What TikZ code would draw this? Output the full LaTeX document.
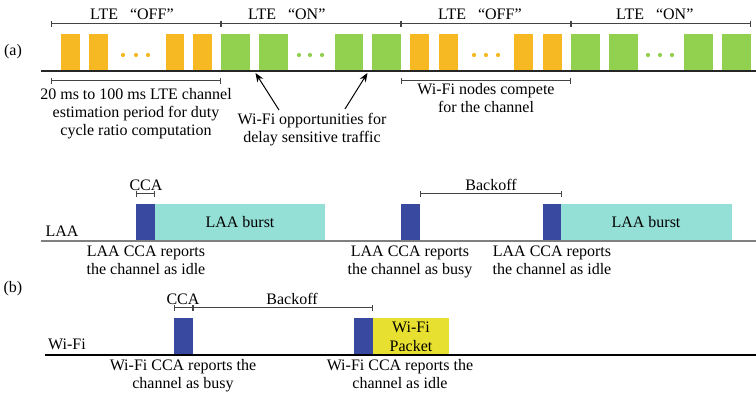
\documentclass[tikz,border=0pt]{standalone}
\usepackage{fontspec}
\setmainfont{Liberation Serif}
\usetikzlibrary{arrows.meta}
\definecolor{lteoff}{HTML}{F6B924}
\definecolor{lteon}{HTML}{92D050}
\definecolor{ccablue}{HTML}{3949A0}
\definecolor{burst}{HTML}{94DFD6}
\definecolor{pkt}{HTML}{E8E030}
\definecolor{brkgray}{HTML}{444444}
\tikzset{
  lbl/.style={inner sep=0pt, anchor=base, font=\fontsize{16}{18}\selectfont},
  lblw/.style={lbl, anchor=base west},
  brk/.style={draw=brkgray, line width=1pt, {Bar[width=6pt,line width=1pt]}-{Bar[width=6pt,line width=1pt]}},
  offbox/.style={fill=lteoff},
  onbox/.style={fill=lteon},
  ccabox/.style={fill=ccablue},
  burstbox/.style={fill=burst},
  pktbox/.style={fill=pkt},
  pointer/.style={draw=black, line width=1pt, -{Stealth[length=9pt,width=7pt]}},
}
\newcommand\qsp{\hspace{12pt}}
\begin{document}
\begin{tikzpicture}[x=1pt,y=-1pt]
\useasboundingbox (0,0) rectangle (756,395);
% ---------------- (a) ----------------
\node[lbl] (pa) at (13,56) {(a)};
\node[lblw] (off1) at (90,20) {LTE\qsp“OFF”};
\node[lblw] (on1) at (248,20) {LTE\qsp“ON”};
\node[lblw] (off2) at (438,20) {LTE\qsp“OFF”};
\node[lblw] (on2) at (616,20) {LTE\qsp“ON”};
\draw[brk] (51,24) -- (221,24);
\draw[brk] (221,24) -- (401,24);
\draw[brk] (401,24) -- (571,24);
\draw[brk] (571,24) -- (751,24);
% boxes
\foreach \a/\b in {61/80,89/108,166/184,193/212,410/429,439/458,514/533,543/562}
  \fill[offbox] (\a,34) rectangle (\b,71);
\foreach \a/\b in {221/250,259/288,335/363,372/401,571/600,609/638,684/713,722/751}
  \fill[onbox] (\a,34) rectangle (\b,71);
\foreach \x in {123,136,148,474,486,498} \fill[lteoff] (\x,55) circle (2.1);
\foreach \x in {299,310,322,648,660,672} \fill[lteon] (\x,55) circle (2.1);
\draw[line width=1.5pt, draw=black!85] (41,71) -- (756,71);
% lower brackets
\draw[brk] (51,81) -- (221,81);
\draw[brk] (401,81) -- (571,81);
\node[lbl] (est1) at (136,100) {20 ms to 100 ms LTE channel};
\node[lbl] (est2) at (136,118) {estimation period for duty};
\node[lbl] (est3) at (136,136) {cycle ratio computation};
\node[lbl] (opp1) at (312,124.5) {Wi-Fi opportunities for};
\node[lbl] (opp2) at (312,142.5) {delay sensitive traffic};
\node[lbl] (cmp1) at (486,95) {Wi-Fi nodes compete};
\node[lbl] (cmp2) at (486,113) {for the channel};
\coordinate (gap1) at (255.5,73);
\coordinate (gap2) at (367.5,73);
\coordinate (t1) at (279,110);
\coordinate (t2) at (345,109);
\draw[pointer] (t1) -- (gap1);
\draw[pointer] (t2) -- (gap2);
% ---------------- (b) ----------------
\node[lbl] (pb) at (13,293) {(b)};
% LAA row
\node[lbl] (laa) at (62,237) {LAA};
\node[lbl] (cca1) at (146,191) {CCA};
\draw[brk] (136,194) -- (155,194);
\node[lbl] (bo1) at (491,191) {Backoff};
\draw[brk] (420,194) -- (562,194);
\fill[ccabox] (136,204) rectangle (155,241);
\fill[burstbox] (155,204) rectangle (325,241);
\node[lbl] (burst1) at (240,228) {LAA burst};
\fill[ccabox] (401,204) rectangle (420,241);
\fill[ccabox] (543,204) rectangle (561,241);
\fill[burstbox] (561,204) rectangle (732,241);
\node[lbl] (burst2) at (646,228) {LAA burst};
\draw[line width=1.5pt, draw=black!50] (41,241) -- (756,241);
\node[lbl] (r1a) at (146,257) {LAA CCA reports};
\node[lbl] (r1b) at (146,275) {the channel as idle};
\node[lbl] (r2a) at (410,257) {LAA CCA reports};
\node[lbl] (r2b) at (410,275) {the channel as busy};
\node[lbl] (r3a) at (552,257) {LAA CCA reports};
\node[lbl] (r3b) at (552,275) {the channel as idle};
% Wi-Fi row
\node[lbl] (wifi) at (67,350) {Wi-Fi};
\node[lbl] (cca2) at (183,305) {CCA};
\node[lbl] (bo2) at (292,305) {Backoff};
\draw[brk] (174,308) -- (193,308);
\draw[brk] (193,308) -- (373,308);
\fill[ccabox] (174,318) rectangle (193,355);
\fill[ccabox] (354,318) rectangle (373,355);
\fill[pktbox] (373,318) rectangle (449,355);
\node[lbl] (pk1) at (411,333) {Wi-Fi};
\node[lbl] (pk2) at (411,352) {Packet};
\draw[line width=1.3pt, draw=black] (45,355) -- (756,355);
\node[lbl] (w1a) at (183,370.5) {Wi-Fi CCA reports the};
\node[lbl] (w1b) at (183,388.5) {channel as busy};
\node[lbl] (w2a) at (400,370.5) {Wi-Fi CCA reports the};
\node[lbl] (w2b) at (400,388.5) {channel as idle};
\end{tikzpicture}
\end{document}
